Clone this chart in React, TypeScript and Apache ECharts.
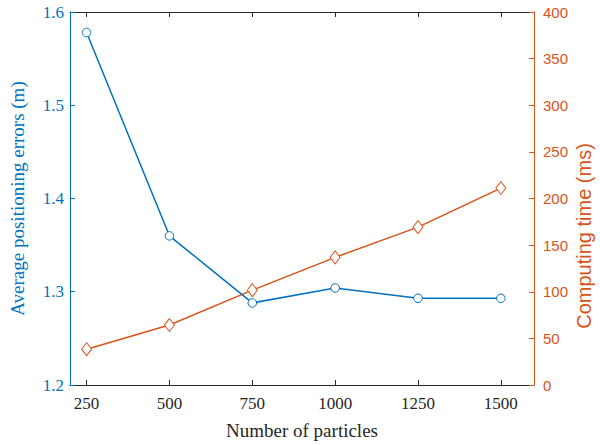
import React, { useEffect, useRef } from "react";
import * as echarts from "echarts";

const particles = [250, 500, 750, 1000, 1250, 1500];
const positioningError = [1.578, 1.36, 1.288, 1.304, 1.293, 1.293];
const computingTime = [38.4, 64.3, 101.7, 136.9, 169.3, 211.2];

const BLUE = "#0072BD";
const ORANGE = "#D95319";
const DARK = "#262626";
const SERIF = "Liberation Serif, Times New Roman, serif";
const SANS = "Liberation Sans, Arial, sans-serif";

export default function App() {
  const ref = useRef<HTMLDivElement>(null);
  useEffect(() => {
    if (!ref.current) return;
    const chart = echarts.init(ref.current, undefined, { renderer: "svg" });
    const xCommon = {
      type: "value" as const,
      min: 200,
      max: 1600,
      splitLine: { show: false },
      axisLine: { show: true, onZero: false, lineStyle: { color: DARK, width: 1 } },
      axisTick: { show: true, inside: true, length: 5, customValues: particles, lineStyle: { color: DARK } },
    };
    chart.setOption({
      animation: false,
      textStyle: { fontFamily: SERIF },
      grid: { left: 58, right: 66, top: 12, bottom: 58, containLabel: false },
      graphic: [
        {
          type: "text",
          x: 584,
          y: 236,
          rotation: Math.PI / 2,
          style: {
            text: "Computing time (ms)",
            fill: ORANGE,
            fontFamily: SANS,
            fontSize: 20,
            align: "center",
            verticalAlign: "middle",
          },
        },
      ],
      xAxis: [
        {
          ...xCommon,
          position: "bottom",
          name: "Number of particles",
          nameLocation: "middle",
          nameGap: 36,
          nameTextStyle: { color: DARK, fontFamily: SERIF, fontSize: 19 },
          axisLabel: {
            customValues: particles,
            color: DARK,
            fontFamily: SERIF,
            fontSize: 17,
            margin: 10,
            formatter: (v: number) => String(v),
          },
        },
        {
          ...xCommon,
          position: "top",
          axisLabel: { show: false },
        },
      ],
      yAxis: [
        {
          type: "value",
          position: "left",
          min: 1.2,
          max: 1.6,
          interval: 0.1,
          splitLine: { show: false },
          axisLine: { show: true, lineStyle: { color: BLUE, width: 1 } },
          axisTick: { show: true, inside: true, length: 5, lineStyle: { color: BLUE } },
          axisLabel: {
            color: BLUE,
            fontFamily: SERIF,
            fontSize: 17,
            margin: 6,
            formatter: (v: number) => v.toFixed(1),
          },
          name: "Average positioning errors (m)",
          nameLocation: "middle",
          nameRotate: 90,
          nameGap: 43,
          nameTextStyle: { color: BLUE, fontFamily: SERIF, fontSize: 19 },
        },
        {
          type: "value",
          position: "right",
          min: 0,
          max: 400,
          interval: 50,
          splitLine: { show: false },
          axisLine: { show: true, lineStyle: { color: ORANGE, width: 1 } },
          axisTick: { show: true, inside: true, length: 5, lineStyle: { color: ORANGE } },
          axisLabel: { color: ORANGE, fontFamily: SANS, fontSize: 15, margin: 9, formatter: (v: number) => String(v) },
        },
      ],
      series: [
        {
          type: "line",
          xAxisIndex: 0,
          yAxisIndex: 0,
          data: particles.map((p, i) => [p, positioningError[i]]),
          symbol: "circle",
          symbolSize: 8.5,
          showAllSymbol: true,
          lineStyle: { color: BLUE, width: 1.5 },
          itemStyle: { color: "#ffffff", borderColor: BLUE, borderWidth: 1 },
          z: 3,
        },
        {
          type: "line",
          xAxisIndex: 0,
          yAxisIndex: 1,
          data: particles.map((p, i) => [p, computingTime[i]]),
          symbol: "diamond",
          symbolSize: [10, 13],
          showAllSymbol: true,
          lineStyle: { color: ORANGE, width: 1.5 },
          itemStyle: { color: "#ffffff", borderColor: ORANGE, borderWidth: 1 },
          z: 2,
        },
      ],
    });
    return () => chart.dispose();
  }, []);
  return (
    <div
      ref={ref}
      style={{ position: "absolute", left: 0, top: 0, width: 600, height: 445, background: "#ffffff" }}
    />
  );
}
